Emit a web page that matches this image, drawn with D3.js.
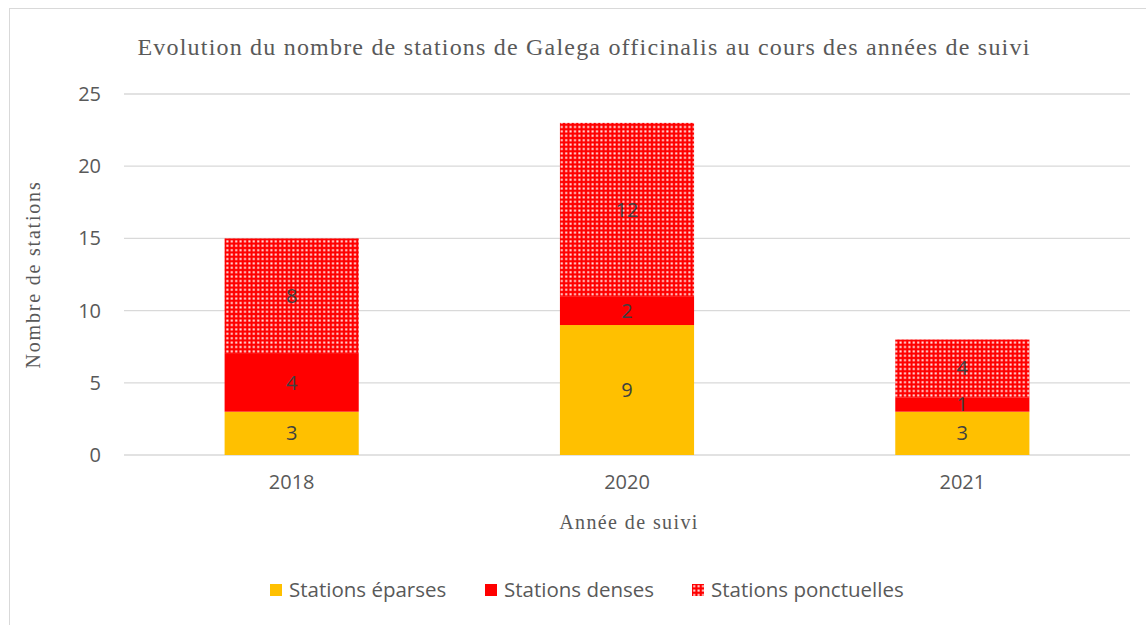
<!DOCTYPE html>
<html lang="fr">
<head>
<meta charset="UTF-8">
<script src="https://d3js.org/d3.v7.min.js"></script>
<style>
  html, body { margin: 0; height: 100%; overflow: hidden; background: #fff; }
</style>
<title>Galega officinalis</title>
</head>
<body>
<svg id="svg"></svg>
<script>
const years = ['2018', '2020', '2021'];
const eparses = [3, 9, 3];
const denses = [4, 2, 1];
const ponctuelles = [8, 12, 4];
const seriesNames = ['Stations éparses', 'Stations denses', 'Stations ponctuelles'];
const yTicks = [0, 5, 10, 15, 20, 25];

const width = 1146, height = 625;
const svg = d3.select('#svg').attr('width', width).attr('height', height);
const margin = { top: 94, left: 124, right: 16, bottom: 170 };
const innerWidth = width - margin.left - margin.right;
const innerHeight = height - margin.top - margin.bottom;

// dotted pattern for "ponctuelles"
const defs = svg.append('defs');
const pat = defs.append('pattern').attr('id', 'dots')
  .attr('patternUnits', 'userSpaceOnUse').attr('width', 4.4).attr('height', 4.4);
pat.append('rect').attr('width', 4.4).attr('height', 4.4).attr('fill', '#ff0000');
pat.append('rect').attr('x', 1.2).attr('y', 1.2).attr('width', 2).attr('height', 2).attr('fill', '#fff0f0');

const colors = ['#ffc000', '#ff0000', 'url(#dots)'];

// chart frame
svg.append('rect').attr('x', 9.5).attr('y', 8.5).attr('width', 1200).attr('height', 700)
  .attr('fill', '#fff').attr('stroke', '#d9d9d9');

const g = svg.append('g').attr('transform', `translate(${margin.left},${margin.top})`);

const x = d3.scaleBand().domain(years).range([0, innerWidth]).paddingInner(0.6).paddingOuter(0.3);
const y = d3.scaleLinear().domain([0, 25]).range([innerHeight, 0]);

const sans = 'Open Sans, sans-serif';
const serif = 'Liberation Serif, DejaVu Serif, serif';

// grid
g.selectAll('line.grid').data(yTicks).join('line').attr('class', 'grid')
  .attr('x1', 0).attr('x2', innerWidth)
  .attr('y1', d => y(d)).attr('y2', d => y(d))
  .attr('stroke', '#d9d9d9').attr('stroke-width', 1.3);

g.selectAll('text.ytick').data(yTicks).join('text').attr('class', 'ytick')
  .attr('x', -23).attr('y', d => y(d)).attr('dy', '0.35em')
  .attr('text-anchor', 'end').attr('fill', '#595959')
  .attr('font-family', sans).attr('font-size', 20)
  .text(d => d);

const table = years.map((yr, i) => ({ year: yr, s0: eparses[i], s1: denses[i], s2: ponctuelles[i] }));
const stacked = d3.stack().keys(['s0', 's1', 's2'])(table);

const layers = g.selectAll('g.layer').data(stacked).join('g').attr('class', 'layer')
  .attr('fill', (d, i) => colors[i]);

layers.selectAll('rect').data(d => d).join('rect')
  .attr('x', d => x(d.data.year))
  .attr('width', x.bandwidth())
  .attr('y', d => y(d[1]))
  .attr('height', d => y(d[0]) - y(d[1]));

layers.selectAll('text').data(d => d).join('text')
  .attr('x', d => x(d.data.year) + x.bandwidth() / 2)
  .attr('y', d => (y(d[0]) + y(d[1])) / 2)
  .attr('dy', '0.35em')
  .attr('text-anchor', 'middle')
  .attr('fill', '#404040')
  .attr('font-family', sans).attr('font-size', 20)
  .text(d => d[1] - d[0]);

// x labels
g.selectAll('text.xtick').data(years).join('text').attr('class', 'xtick')
  .attr('x', d => x(d) + x.bandwidth() / 2).attr('y', innerHeight + 34)
  .attr('text-anchor', 'middle').attr('fill', '#595959')
  .attr('font-family', sans).attr('font-size', 20)
  .text(d => d);

// titles
svg.append('text').attr('x', 584).attr('y', 55).attr('text-anchor', 'middle')
  .attr('fill', '#595959').attr('font-family', serif).attr('font-size', 24)
  .attr('letter-spacing', 1.2)
  .text('Evolution du nombre de stations de Galega officinalis au cours des années de suivi');

svg.append('text').attr('x', margin.left + innerWidth / 2 + 2).attr('y', 529).attr('text-anchor', 'middle')
  .attr('fill', '#595959').attr('font-family', serif).attr('font-size', 20)
  .attr('letter-spacing', 1.4)
  .text('Année de suivi');

svg.append('text').attr('transform', `translate(40,${margin.top + innerHeight / 2}) rotate(-90)`)
  .attr('text-anchor', 'middle')
  .attr('fill', '#595959').attr('font-family', serif).attr('font-size', 20)
  .attr('letter-spacing', 1.8)
  .text('Nombre de stations');

// legend
const legX = [270, 485, 692];
const leg = svg.selectAll('g.leg').data(seriesNames).join('g').attr('class', 'leg')
  .attr('transform', (d, i) => `translate(${legX[i]},584)`);
leg.append('rect').attr('width', 12).attr('height', 12).attr('fill', (d, i) => colors[i]);
leg.append('text').attr('x', 19).attr('y', 6).attr('dy', '0.35em')
  .attr('fill', '#595959').attr('font-family', sans).attr('font-size', 20.5)
  .text(d => d);
</script>
</body>
</html>
